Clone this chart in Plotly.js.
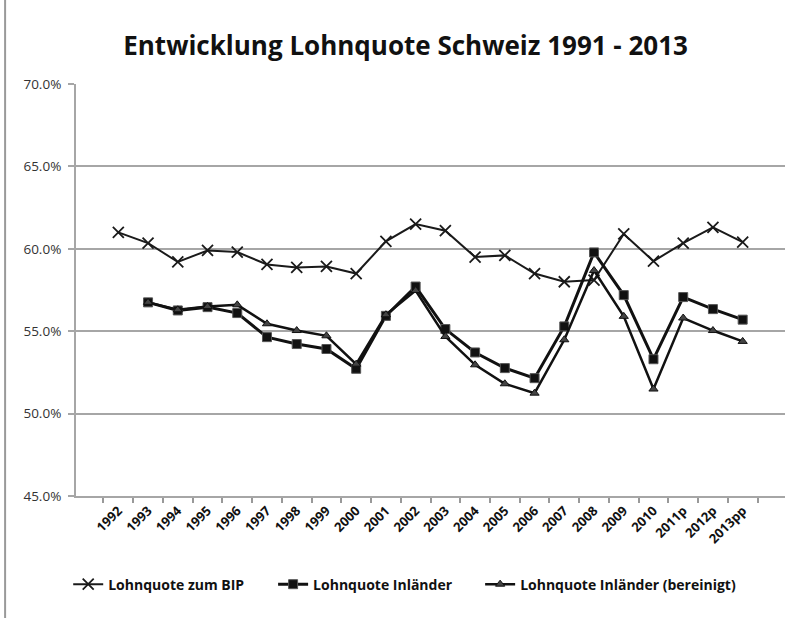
<!DOCTYPE html>
<html>
<head>
<meta charset="utf-8">
<script src="https://cdn.plot.ly/plotly-3.0.1.min.js"></script>
<style>html,body{margin:0;padding:0;background:#fff;}#chart{width:800px;height:618px;}</style>
</head>
<body>
<div id="chart"></div>
<script>
const years = ["1992","1993","1994","1995","1996","1997","1998","1999","2000","2001","2002","2003","2004","2005","2006","2007","2008","2009","2010","2011p","2012p","2013pp"];
const lohnquoteBIP = [61.0,60.35,59.2,59.9,59.8,59.05,58.87,58.93,58.5,60.45,61.5,61.1,59.5,59.6,58.5,58.0,58.1,60.9,59.25,60.35,61.3,60.4];
const lohnquoteInlaender = [null,56.75,56.26,56.46,56.1,54.64,54.22,53.92,52.72,55.93,57.71,55.13,53.71,52.76,52.15,55.29,59.78,57.19,53.3,57.07,56.34,55.7];
const lohnquoteBereinigt = [null,56.75,56.3,56.5,56.6,55.45,55.04,54.72,53.0,56.0,57.47,54.68,52.96,51.81,51.24,54.48,58.68,55.9,51.49,55.8,55.04,54.38];
const yTicks = [45,50,55,60,65,70];
const yTickLabels = ["45.0%","50.0%","55.0%","60.0%","65.0%","70.0%"];

const font = "'Open Sans', 'Noto Sans', sans-serif";
const traces = [
  {x: years, y: lohnquoteBIP, name: "Lohnquote zum BIP", mode: "lines+markers", legend: "legend",
   line: {color: "#1a1a1a", width: 2},
   marker: {symbol: "x-thin", size: 11, color: "#1a1a1a", line: {color: "#1a1a1a", width: 1.8}}},
  {x: years, y: lohnquoteInlaender, name: "Lohnquote Inländer", mode: "lines+markers", legend: "legend2",
   line: {color: "#111", width: 3},
   marker: {symbol: "square", size: 9, color: "#111", line: {color: "#555", width: 1}}},
  {x: years, y: lohnquoteBereinigt, name: "Lohnquote Inländer (bereinigt)", mode: "lines+markers", legend: "legend3",
   line: {color: "#111", width: 2.5},
   marker: {symbol: "triangle-up", size: 8, color: "#444", line: {color: "#111", width: 1}}}
];

const legendFont = {family: font, size: 14, color: "#111", weight: "bold"};
function legendAt(x) {
  return {orientation: "h", x: x, xanchor: "left", y: -0.215, yanchor: "middle", font: legendFont, bgcolor: "rgba(0,0,0,0)"};
}

const layout = {
  width: 800, height: 618,
  margin: {l: 76, r: 15, t: 84, b: 122},
  paper_bgcolor: "#fff", plot_bgcolor: "#fff",
  showlegend: true,
  title: {text: "<b>Entwicklung Lohnquote Schweiz 1991 - 2013</b>", x: 0.507, xanchor: "center", y: 0.925, yanchor: "middle",
          font: {family: font, size: 26, color: "#111"}},
  xaxis: {type: "category", tickangle: -45, tickson: "boundaries", ticks: "outside", ticklen: 5, tickcolor: "#999", tickwidth: 2,
          showline: true, linecolor: "#a6a6a6", linewidth: 2, showgrid: false, zeroline: false,
          tickfont: {family: font, size: 13, color: "#111", weight: "bold"}, automargin: false},
  yaxis: {range: [45, 70], tickvals: yTicks, ticktext: yTickLabels, ticks: "outside", ticklen: 6,
          tickcolor: "#a6a6a6", tickwidth: 2, showline: true, linecolor: "#a6a6a6", linewidth: 2,
          showgrid: true, gridcolor: "#a6a6a6", gridwidth: 2, zeroline: false, ticklabelstandoff: 4,
          tickfont: {family: font, size: 13.5, color: "#333"}, automargin: false},
  legend: legendAt(-0.011),
  legend2: legendAt(0.278),
  legend3: legendAt(0.570),
  shapes: [{type: "line", xref: "paper", yref: "paper", x0: -0.1, x1: -0.1, y0: -0.3, y1: 1.3,
            line: {color: "#999", width: 2}}]
};
Plotly.newPlot("chart", traces, layout, {displayModeBar: false, staticPlot: true});
</script>
</body>
</html>
